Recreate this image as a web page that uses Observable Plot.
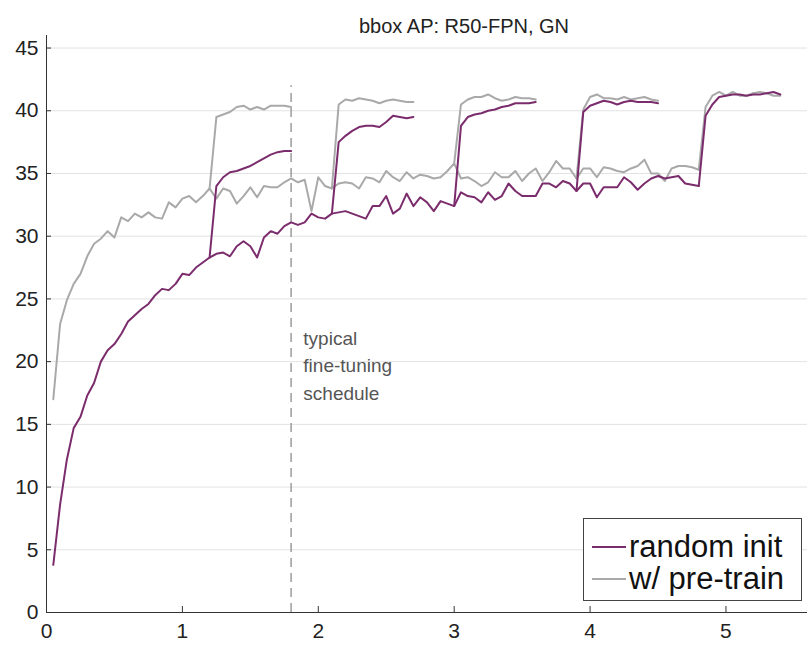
<!DOCTYPE html>
<html><head><meta charset="utf-8">
<script src="https://cdn.jsdelivr.net/npm/d3@7"></script>
<script src="https://cdn.jsdelivr.net/npm/@observablehq/plot@0.6"></script>
<style>
body{margin:0;background:#fff;font-family:"Liberation Sans",Arial,sans-serif;}
#wrap{position:relative;width:807px;height:645px;}
#legend{position:absolute;left:583px;top:518px;width:217px;height:81px;border:1px solid #444;background:#fff;box-sizing:content-box;}
.row{position:absolute;left:8px;height:30px;line-height:30px;display:flex;align-items:center;font-size:31px;color:#111;white-space:nowrap;}
.sw{width:34px;height:2px;margin-right:3px;}
</style></head><body><div id="wrap"></div>
<script>
const titleText = "bbox AP: R50-FPN, GN";
const annotation = "typical\nfine-tuning\nschedule";
const seriesNames = ["random init", "w/ pre-train"];
const seriesColors = ["#7b2c6c", "#a9a9a9"];
const xTicks = [0, 1, 2, 3, 4, 5];
const yTicks = [0, 5, 10, 15, 20, 25, 30, 35, 40, 45];
const step = 0.05;
const fineTuneX = 1.8;
const dashTop = 42;
const annX = 1.89, annY = 19.85;

// main training curves, sampled every 0.05 from 0.05 to 4.80
const randomMain = [3.8,8.6,12.2,14.7,15.6,17.3,18.3,20.0,20.9,21.4,
  22.2,23.2,23.7,24.2,24.6,25.3,25.8,25.7,26.2,27.0,
  26.9,27.5,27.9,28.3,28.6,28.7,28.4,29.2,29.6,29.2,
  28.3,29.9,30.4,30.2,30.8,31.1,30.9,31.1,31.8,31.5,
  31.4,31.8,31.9,32.0,31.8,31.6,31.4,32.4,32.4,33.2,
  31.8,32.2,33.4,32.4,33.1,32.7,32.0,32.8,32.6,32.4,
  33.5,33.2,33.1,32.7,33.5,32.9,33.2,34.2,33.6,33.2,
  33.2,33.2,34.2,34.2,33.9,34.4,34.2,33.6,34.2,34.2,
  33.1,33.9,33.9,33.9,34.7,34.3,33.7,34.2,34.6,34.8,
  34.6,34.7,34.8,34.2,34.1,34.0];
const pretrainMain = [17.0,23.0,24.9,26.2,27.0,28.4,29.4,29.8,30.4,29.9,
  31.5,31.2,31.8,31.5,31.9,31.5,31.4,32.7,32.3,33.0,
  33.2,32.7,33.2,33.8,33.0,33.8,33.6,32.6,33.2,33.9,
  33.1,34.0,33.9,33.9,34.3,34.6,34.3,34.5,32.0,34.7,
  34.0,33.8,34.2,34.3,34.2,33.8,34.7,34.6,34.3,35.2,
  34.7,34.4,35.1,34.6,34.9,34.8,34.6,34.7,35.2,35.8,
  34.6,34.7,34.4,34.0,34.3,35.1,34.7,34.7,35.2,34.4,
  35.0,35.4,34.4,35.1,36.0,35.4,35.4,34.6,35.4,35.4,
  34.7,35.5,35.4,35.2,35.1,35.4,35.6,36.1,35.0,35.0,
  34.4,35.4,35.6,35.6,35.5,35.3];

// fine-tuning branches (lr drop), each starting at the branch iteration
const branchStarts = [1.2, 2.1, 3.0, 3.9, 4.8];
const randomBranches = [
  [28.3,34.0,34.7,35.1,35.2,35.4,35.6,35.9,36.2,36.5,36.7,36.8,36.8],
  [31.8,37.5,38.0,38.4,38.7,38.8,38.8,38.7,39.1,39.6,39.5,39.4,39.5],
  [32.4,38.8,39.5,39.7,39.8,40.0,40.1,40.3,40.4,40.6,40.6,40.6,40.7],
  [33.6,39.9,40.4,40.6,40.8,40.7,40.5,40.7,40.8,40.7,40.7,40.7,40.6],
  [34.0,39.6,40.5,41.1,41.2,41.3,41.3,41.2,41.3,41.3,41.4,41.5,41.3]
];
const pretrainBranches = [
  [33.8,39.5,39.7,39.9,40.3,40.4,40.1,40.3,40.1,40.4,40.4,40.4,40.3],
  [33.8,40.5,40.9,40.8,41.0,40.9,40.8,40.6,40.8,40.9,40.8,40.7,40.7],
  [35.8,40.5,40.9,41.1,41.1,41.3,41.0,40.8,40.9,41.1,41.0,41.0,40.9],
  [34.6,40.1,41.1,41.3,41.0,41.0,40.9,41.1,40.9,41.0,41.1,40.9,40.8],
  [35.3,40.3,41.2,41.5,41.2,41.5,41.2,41.2,41.4,41.5,41.4,41.2,41.2]
];

function rows(main, branches) {
  const out = main.map((y, i) => ({x: step * (i + 1), y, seg: "main"}));
  branches.forEach((b, k) => b.forEach((y, i) => out.push({x: branchStarts[k] + step * i, y, seg: "b" + k})));
  return out;
}
const randomRows = rows(randomMain, randomBranches);
const pretrainRows = rows(pretrainMain, pretrainBranches);

const chart = Plot.plot({
  width: 807, height: 645,
  marginTop: 35, marginBottom: 33, marginLeft: 46, marginRight: 0,
  x: {domain: [0, 5.6], axis: null, label: null},
  y: {domain: [0, 46], axis: null, label: null},
  style: {fontFamily: "'Liberation Sans', Arial, sans-serif", color: "#222", background: "white", overflow: "visible"},
  marks: [
    Plot.gridY(yTicks.filter(d => d > 0), {stroke: "#e2e2e2", strokeOpacity: 1}),
    Plot.ruleX([fineTuneX], {y1: 0, y2: dashTop, stroke: "#9b9b9b", strokeDasharray: "9,6", strokeWidth: 1.5}),
    Plot.line(pretrainRows, {x: "x", y: "y", z: "seg", stroke: seriesColors[1], strokeWidth: 2}),
    Plot.line(randomRows, {x: "x", y: "y", z: "seg", stroke: seriesColors[0], strokeWidth: 2}),
    Plot.ruleY([0], {stroke: "#333"}),
    Plot.ruleX([0], {stroke: "#333"}),
    Plot.axisY(yTicks, {tickSize: 5, dx: 5, fill: "none", stroke: "#333", label: null}),
    Plot.axisY(yTicks, {tickSize: 0, tickPadding: 8, fontSize: 21, fill: "#222", label: null, tickFormat: d3.format("d")}),
    Plot.axisX(xTicks, {tickSize: 6, dy: -6, fill: "none", stroke: "#333", label: null}),
    Plot.axisX(xTicks, {tickSize: 0, tickPadding: 11, fontSize: 21, fill: "#222", label: null, tickFormat: d3.format("d")}),
    Plot.text([titleText], {frameAnchor: "top", dy: -17, dx: 37, fontSize: 20, fill: "#222"}),
    Plot.text([annotation], {x: annX, y: annY, textAnchor: "start", lineHeight: 1.47, fontSize: 19, fill: "#555"})
  ]
});
const wrap = document.getElementById("wrap");
wrap.appendChild(chart);
const legend = document.createElement("div");
legend.id = "legend";
seriesNames.forEach((name, i) => {
  const row = document.createElement("div");
  row.className = "row";
  row.style.top = (13 + 32 * i) + "px";
  const sw = document.createElement("span");
  sw.className = "sw";
  sw.style.background = seriesColors[i];
  row.appendChild(sw);
  row.appendChild(document.createTextNode(name));
  legend.appendChild(row);
});
wrap.appendChild(legend);
</script></body></html>
